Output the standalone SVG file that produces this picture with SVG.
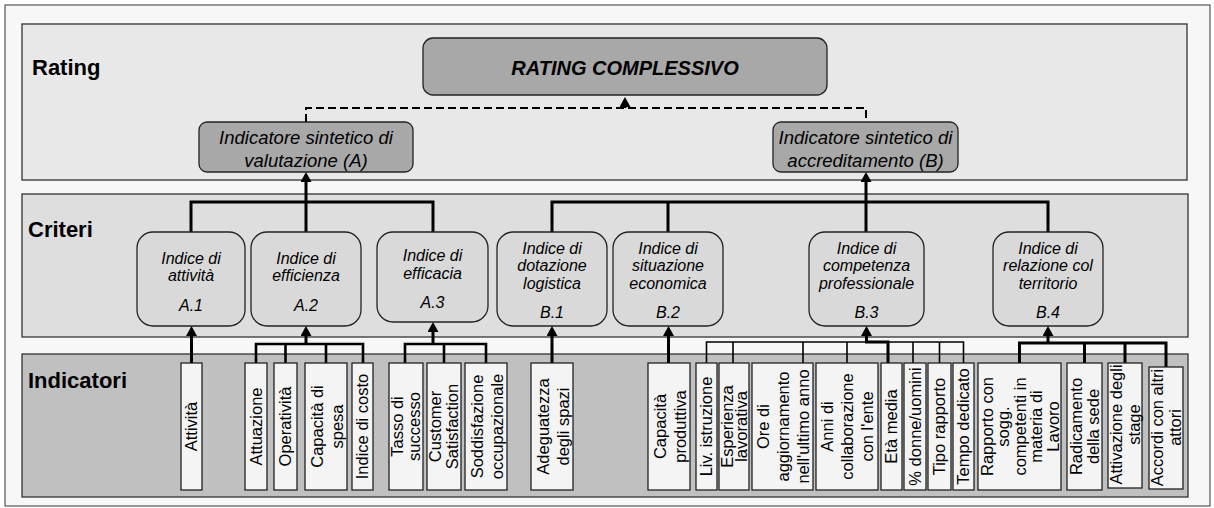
<svg xmlns="http://www.w3.org/2000/svg" width="1214" height="508" viewBox="0 0 1214 508">
<defs>
<style>
.frame{fill:#f7f7f7;stroke:#555;stroke-width:1.2}
.band{stroke:#333;stroke-width:1.3}
.b1{fill:#e8e8e8}.b2{fill:#dedede}.b3{fill:#c0c0c0}
.lbl{font-family:"Liberation Sans",Arial,sans-serif;font-weight:bold;font-size:22px;fill:#000}
.top{fill:#a8a8a8;stroke:#222;stroke-width:1.3}
.crit{fill:#d9d9d9;stroke:#222;stroke-width:1.3}
.ind{fill:#f4f4f4;stroke:#222;stroke-width:1.3}
text{font-family:"Liberation Sans",Arial,sans-serif;fill:#000}
.tt{font-style:italic;font-size:18.5px;text-anchor:middle}
.rt{font-style:italic;font-weight:bold;font-size:20px;text-anchor:middle}
.ct{font-style:italic;font-size:16px;text-anchor:middle}
.vt{font-size:16.5px;text-anchor:middle}
.conn{fill:none;stroke:#000;stroke-width:3}
.mid{stroke-width:2.6}
.thin{stroke-width:1.6}
.dash{stroke-width:2;stroke-dasharray:8 4}
</style>
<marker id="arr" viewBox="0 0 10 11" refX="0" refY="5.5" markerWidth="10" markerHeight="11" orient="auto" markerUnits="userSpaceOnUse">
<path d="M0,0 L10,5.5 L0,11 z" fill="#000"/>
</marker>
</defs>

<rect class="frame" x="5" y="5" width="1205" height="501"/>
<g id="bands">
<rect class="band b1" x="22" y="24" width="1165" height="156"/>
<rect class="band b2" x="22" y="194" width="1166" height="143"/>
<rect class="band b3" x="22" y="354" width="1166" height="143"/>
<text class="lbl" x="32" y="75">Rating</text>
<text class="lbl" x="28" y="237">Criteri</text>
<text class="lbl" x="28" y="388">Indicatori</text>
</g>

<g id="connectors">
<path class="conn dash" d="M306,122 V108 H866 V122"/>
<path class="conn" stroke-width="2" d="M625,108 V107" marker-end="url(#arr)"/>
<path class="conn" d="M306,202 V182" marker-end="url(#arr)"/>
<path class="conn" d="M191,232 V202 H433 V232 M306,202 V232"/>
<path class="conn" d="M866,202 V182" marker-end="url(#arr)"/>
<path class="conn" d="M552,232 V202 H1048 V232 M668,202 V232 M866,202 V232"/>
<path class="conn" d="M191.5,363 V336" marker-end="url(#arr)"/>
<path class="conn mid" d="M256,363 V344 H363 V363 M285.5,344 V363 M326,344 V363"/>
<path class="conn" d="M306,344 V336" marker-end="url(#arr)"/>
<path class="conn mid" d="M405,363 V344 H486 V363 M444,344 V363"/>
<path class="conn" d="M433,344 V332" marker-end="url(#arr)"/>
<path class="conn" d="M552,363 V336" marker-end="url(#arr)"/>
<path class="conn" d="M668.5,363 V336" marker-end="url(#arr)"/>
<path class="conn thin" d="M706.5,363 V342 H963.5 V363 M733,342 V363 M803,342 V363 M847,342 V363 M913,342 V363 M939.5,342 V363"/>
<path class="conn" d="M888,363 V342 H866.5 V336" marker-end="url(#arr)"/>
<path class="conn" d="M1019.5,363 V343 H1166 V367 M1084.5,343 V363 M1125,343 V363"/>
<path class="conn" d="M1048,343 V336" marker-end="url(#arr)"/>
</g>

<g id="rating-complessivo">
<rect class="top" x="423" y="38" width="404" height="57" rx="10"/>
<text class="rt" x="625" y="75">RATING COMPLESSIVO</text>
</g>
<g id="ind-sint-A">
<rect class="top" x="199" y="122" width="214" height="50" rx="8"/>
<text class="tt" x="306" y="143.5">Indicatore sintetico di</text>
<text class="tt" x="306" y="166.5">valutazione (A)</text>
</g>
<g id="ind-sint-B">
<rect class="top" x="773" y="122" width="185" height="50" rx="8"/>
<text class="tt" x="865.5" y="143.5">Indicatore sintetico di</text>
<text class="tt" x="865.5" y="166.5">accreditamento (B)</text>
</g>

<g id="A1">
<rect class="crit" x="137" y="232" width="108" height="94" rx="16"/>
<text class="ct" x="191" y="264">Indice di</text>
<text class="ct" x="191" y="281">attività</text>
<text class="ct" x="191" y="311">A.1</text>
</g>
<g id="A2">
<rect class="crit" x="251" y="232" width="110" height="94" rx="16"/>
<text class="ct" x="306" y="264">Indice di</text>
<text class="ct" x="306" y="281">efficienza</text>
<text class="ct" x="306" y="311">A.2</text>
</g>
<g id="A3">
<rect class="crit" x="377" y="232" width="111" height="90" rx="16"/>
<text class="ct" x="432.5" y="261">Indice di</text>
<text class="ct" x="432.5" y="279">efficacia</text>
<text class="ct" x="432.5" y="308">A.3</text>
</g>
<g id="B1">
<rect class="crit" x="497" y="232" width="110" height="94" rx="16"/>
<text class="ct" x="552" y="254">Indice di</text>
<text class="ct" x="552" y="271">dotazione</text>
<text class="ct" x="552" y="289">logistica</text>
<text class="ct" x="552" y="318">B.1</text>
</g>
<g id="B2">
<rect class="crit" x="613" y="232" width="110" height="94" rx="16"/>
<text class="ct" x="668" y="254">Indice di</text>
<text class="ct" x="668" y="271">situazione</text>
<text class="ct" x="668" y="289">economica</text>
<text class="ct" x="668" y="318">B.2</text>
</g>
<g id="B3">
<rect class="crit" x="809" y="232" width="115" height="94" rx="16"/>
<text class="ct" x="866.5" y="254">Indice di</text>
<text class="ct" x="866.5" y="271">competenza</text>
<text class="ct" x="866.5" y="289">professionale</text>
<text class="ct" x="866.5" y="318">B.3</text>
</g>
<g id="B4">
<rect class="crit" x="993" y="232" width="110" height="94" rx="16"/>
<text class="ct" x="1048" y="254">Indice di</text>
<text class="ct" x="1048" y="271">relazione col</text>
<text class="ct" x="1048" y="289">territorio</text>
<text class="ct" x="1048" y="318">B.4</text>
</g>

<g id="i-attivita"><rect class="ind" x="181" y="363" width="21" height="127"/>
<text class="vt" transform="translate(191.5,426.5) rotate(-90)"><tspan x="0" y="5.8">Attività</tspan></text></g>
<g id="i-attuazione"><rect class="ind" x="245" y="363" width="22" height="127"/>
<text class="vt" transform="translate(256,426.5) rotate(-90)"><tspan x="0" y="5.8">Attuazione</tspan></text></g>
<g id="i-operativita"><rect class="ind" x="274" y="363" width="23" height="127"/>
<text class="vt" transform="translate(285.5,426.5) rotate(-90)"><tspan x="0" y="5.8">Operatività</tspan></text></g>
<g id="i-capacita-spesa"><rect class="ind" x="305" y="363" width="42" height="127"/>
<text class="vt" transform="translate(327.5,426.5) rotate(-90)"><tspan x="0" y="-4.2">Capacità di</tspan><tspan x="0" y="15.8">spesa</tspan></text></g>
<g id="i-indice-costo"><rect class="ind" x="352" y="363" width="21" height="127"/>
<text class="vt" transform="translate(362.5,426.5) rotate(-90)"><tspan x="0" y="5.8">Indice di costo</tspan></text></g>
<g id="i-tasso"><rect class="ind" x="389" y="363" width="34" height="127"/>
<text class="vt" transform="translate(405.5,426.5) rotate(-90)"><tspan x="0" y="-2.7">Tasso di</tspan><tspan x="0" y="14.3">successo</tspan></text></g>
<g id="i-customer"><rect class="ind" x="427" y="363" width="34" height="127"/>
<text class="vt" transform="translate(443.5,426.5) rotate(-90)"><tspan x="0" y="-2.7">Customer</tspan><tspan x="0" y="14.3">Satisfaction</tspan></text></g>
<g id="i-soddisfazione"><rect class="ind" x="465" y="363" width="42" height="127"/>
<text class="vt" transform="translate(487,426.5) rotate(-90)"><tspan x="0" y="-4.2">Soddisfazione</tspan><tspan x="0" y="15.8">occupazionale</tspan></text></g>
<g id="i-adeguatezza"><rect class="ind" x="531" y="363" width="42" height="127"/>
<text class="vt" transform="translate(553,426.5) rotate(-90)"><tspan x="0" y="-4.2">Adeguatezza</tspan><tspan x="0" y="15.8">degli spazi</tspan></text></g>
<g id="i-capacita-produttiva"><rect class="ind" x="648" y="363" width="42" height="127"/>
<text class="vt" transform="translate(670,426.5) rotate(-90)"><tspan x="0" y="-4.2">Capacità</tspan><tspan x="0" y="15.8">produttiva</tspan></text></g>
<g id="i-liv-istruzione"><rect class="ind" x="696" y="363" width="21" height="127"/>
<text class="vt" transform="translate(706.5,426.5) rotate(-90)"><tspan x="0" y="5.8">Liv. istruzione</tspan></text></g>
<g id="i-esperienza"><rect class="ind" x="719" y="363" width="30" height="127"/>
<text class="vt" transform="translate(734,426.5) rotate(-90)"><tspan x="0" y="-1.2">Esperienza</tspan><tspan x="0" y="12.8">lavorativa</tspan></text></g>
<g id="i-ore"><rect class="ind" x="752" y="363" width="61" height="127"/>
<text class="vt" transform="translate(783,426.5) rotate(-90)"><tspan x="0" y="-14.2">Ore di</tspan><tspan x="0" y="5.8">aggiornamento</tspan><tspan x="0" y="25.8">nell'ultimo anno</tspan></text></g>
<g id="i-anni"><rect class="ind" x="816" y="363" width="62" height="127"/>
<text class="vt" transform="translate(847,426.5) rotate(-90)"><tspan x="0" y="-14.2">Anni di</tspan><tspan x="0" y="5.8">collaborazione</tspan><tspan x="0" y="25.8">con l'ente</tspan></text></g>
<g id="i-eta"><rect class="ind" x="881" y="363" width="21" height="127"/>
<text class="vt" transform="translate(891.5,426.5) rotate(-90)"><tspan x="0" y="5.8">Età media</tspan></text></g>
<g id="i-donne"><rect class="ind" x="904" y="363" width="22" height="127"/>
<text class="vt" transform="translate(915,426.5) rotate(-90)"><tspan x="0" y="5.8">% donne/uomini</tspan></text></g>
<g id="i-tipo"><rect class="ind" x="928" y="363" width="23" height="127"/>
<text class="vt" transform="translate(939.5,426.5) rotate(-90)"><tspan x="0" y="5.8">Tipo rapporto</tspan></text></g>
<g id="i-tempo"><rect class="ind" x="953" y="363" width="21" height="127"/>
<text class="vt" transform="translate(963.5,426.5) rotate(-90)"><tspan x="0" y="5.8">Tempo dedicato</tspan></text></g>
<g id="i-rapporto"><rect class="ind" x="978" y="363" width="83" height="127"/>
<text class="vt" transform="translate(1020,426.5) rotate(-90)"><tspan x="0" y="-27.4">Rapporto con</tspan><tspan x="0" y="-10.8">sogg.</tspan><tspan x="0" y="5.8">competenti in</tspan><tspan x="0" y="22.4">materia di</tspan><tspan x="0" y="39">Lavoro</tspan></text></g>
<g id="i-radicamento"><rect class="ind" x="1067" y="363" width="35" height="127"/>
<text class="vt" transform="translate(1084.5,426.5) rotate(-90)"><tspan x="0" y="-2.7">Radicamento</tspan><tspan x="0" y="14.3">della sede</tspan></text></g>
<g id="i-attivazione"><rect class="ind" x="1108" y="363" width="34" height="125"/>
<text class="vt" transform="translate(1125,424.5) rotate(-90)"><tspan x="0" y="-3.2">Attivazione degli</tspan><tspan x="0" y="14.8">stage</tspan></text></g>
<g id="i-accordi"><rect class="ind" x="1149" y="367" width="34" height="122"/>
<text class="vt" transform="translate(1166,427.5) rotate(-90)"><tspan x="0" y="-3.2">Accordi con altri</tspan><tspan x="0" y="14.8">attori</tspan></text></g>
</svg>
